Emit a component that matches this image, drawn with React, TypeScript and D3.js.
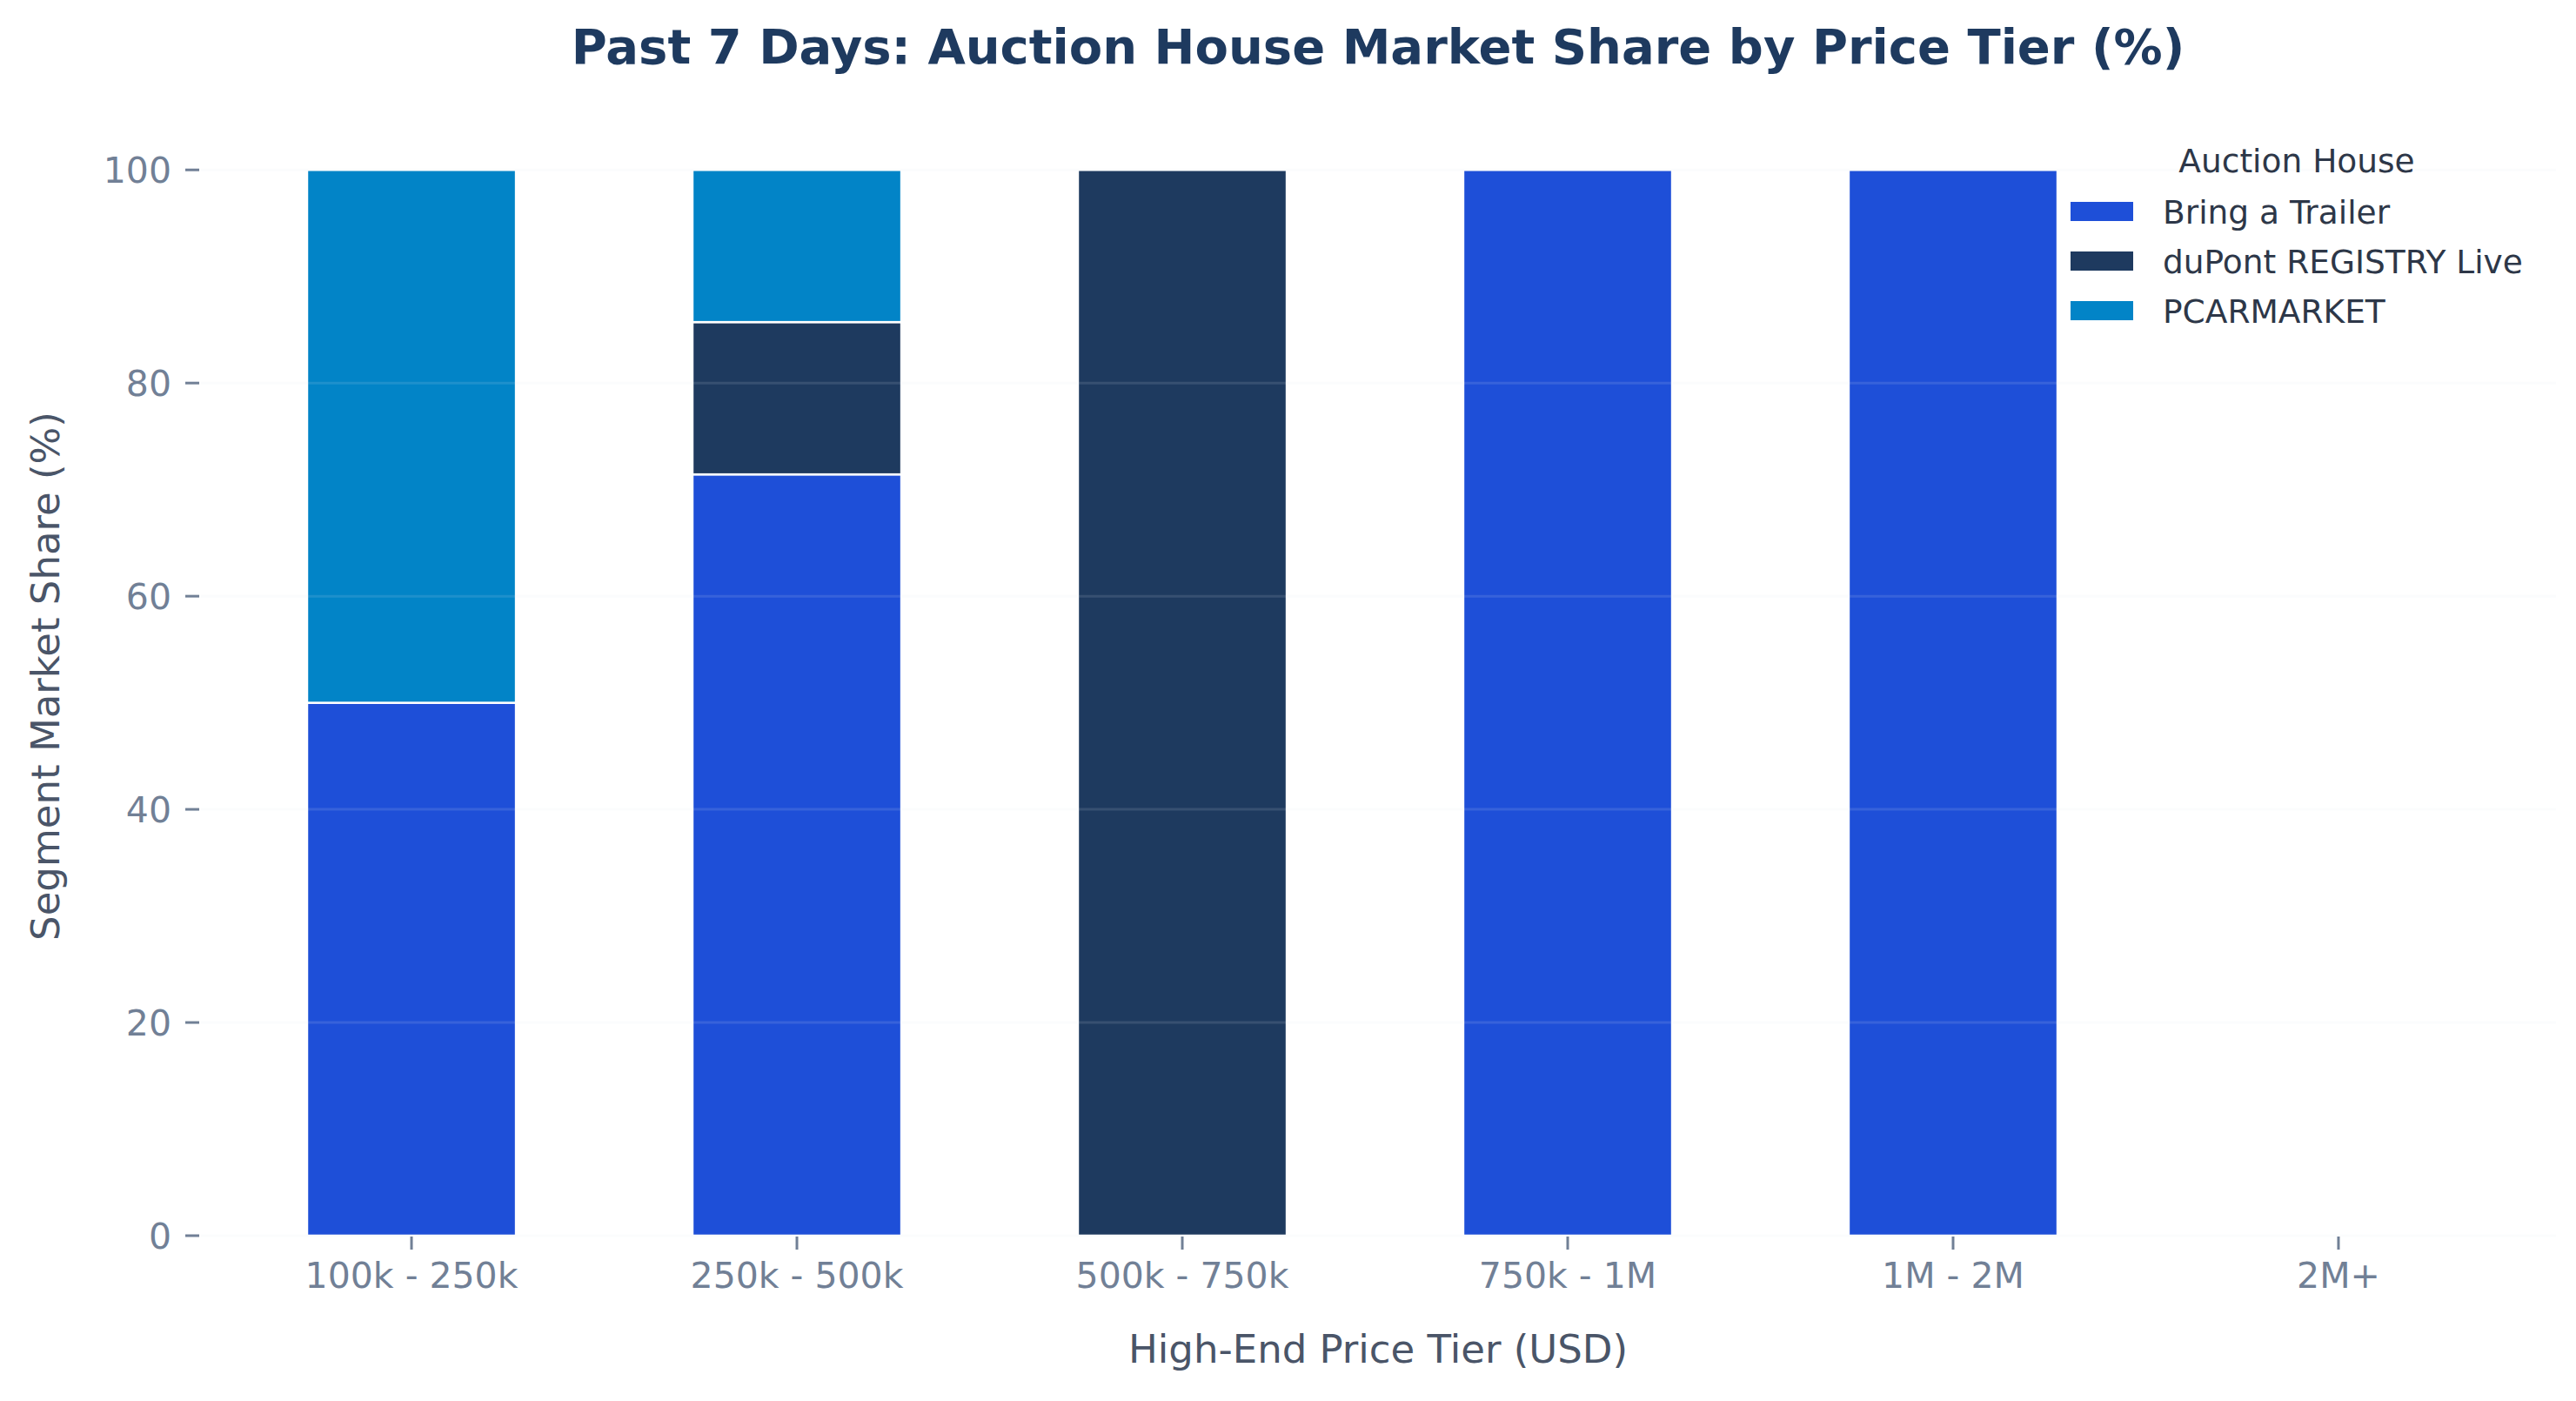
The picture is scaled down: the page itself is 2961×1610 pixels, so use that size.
import React, { useEffect } from "react";
import * as d3 from "d3";

const categories = ["100k - 250k", "250k - 500k", "500k - 750k", "750k - 1M", "1M - 2M", "2M+"];
const seriesNames = ["Bring a Trailer", "duPont REGISTRY Live", "PCARMARKET"];
const bringATrailer = [50, 71.43, 0, 100, 100, 0];
const duPontRegistry = [0, 14.29, 100, 0, 0, 0];
const pcarMarket = [50, 14.28, 0, 0, 0, 0];
const seriesColors = ["#1e4fd8", "#1e3a5f", "#0284c7"];
const yTicks = [0, 20, 40, 60, 80, 100];

const W = 2961;
const H = 1610;
const M = { left: 230, right: 2938, top: 134, bottom: 1420 };
const FONT = "'DejaVu Sans', sans-serif";

export default function App() {
  useEffect(() => {
    document.body.style.margin = "0";
  }, []);

  const x = d3
    .scaleBand<string>()
    .domain(categories)
    .range([M.left, 2931])
    .paddingInner(0.458)
    .paddingOuter(0.2776);
  const y = d3.scaleLinear().domain([0, 105]).range([M.bottom, M.top]);

  const rows = categories.map((c, i) => ({
    cat: c,
    [seriesNames[0]]: bringATrailer[i],
    [seriesNames[1]]: duPontRegistry[i],
    [seriesNames[2]]: pcarMarket[i],
  }));
  const stacked = d3.stack<any>().keys(seriesNames)(rows);

  const cx = (c: string) => (x(c) as number) + x.bandwidth() / 2;

  return (
    <svg width={W} height={H} style={{ display: "block", background: "#ffffff" }} fontFamily={FONT}>
      <text
        x={(M.left + M.right) / 2}
        y={73}
        textAnchor="middle"
        fontSize={56}
        fontWeight="bold"
        fill="#1e3a5f"
      >
        Past 7 Days: Auction House Market Share by Price Tier (%)
      </text>

      {stacked.map((layer, si) => (
        <g key={layer.key} fill={seriesColors[si]}>
          {layer.map((d, i) => {
            const h = y(d[0]) - y(d[1]);
            if (h <= 0) return null;
            return (
              <rect
                key={i}
                x={x(categories[i]) as number}
                y={y(d[1])}
                width={x.bandwidth()}
                height={h}
                stroke="#ffffff"
                strokeWidth={2.5}
              />
            );
          })}
        </g>
      ))}

      {yTicks.map((t) => (
        <line
          key={t}
          x1={M.left}
          x2={M.right}
          y1={y(t)}
          y2={y(t)}
          stroke="#e2e8f0"
          strokeOpacity={0.13}
          strokeWidth={3}
        />
      ))}

      {yTicks.map((t) => (
        <g key={"yt" + t}>
          <line x1={213} x2={229} y1={y(t)} y2={y(t)} stroke="#718096" strokeWidth={3} />
          <text x={197} y={y(t)} dy="0.36em" textAnchor="end" fontSize={41} fill="#718096">
            {t}
          </text>
        </g>
      ))}

      {categories.map((c) => (
        <g key={"xt" + c}>
          <line x1={cx(c)} x2={cx(c)} y1={1421} y2={1436} stroke="#718096" strokeWidth={3} />
          <text x={cx(c)} y={1480} textAnchor="middle" fontSize={41} fill="#718096">
            {c}
          </text>
        </g>
      ))}

      <text x={(M.left + M.right) / 2} y={1566} textAnchor="middle" fontSize={45} fill="#4a5568">
        High-End Price Tier (USD)
      </text>
      <text
        transform={`translate(${68},${(M.top + M.bottom) / 2}) rotate(-90)`}
        textAnchor="middle"
        fontSize={45}
        fill="#4a5568"
      >
        Segment Market Share (%)
      </text>

      <g>
        <text x={2640} y={198} textAnchor="middle" fontSize={37.5} fill="#2d3748">
          Auction House
        </text>
        {seriesNames.map((s, i) => (
          <g key={s} transform={`translate(2380, ${243 + i * 57})`}>
            <rect x={0} y={-11} width={72} height={22} fill={seriesColors[i]} />
            <text x={106} y={0} dy="0.36em" fontSize={37.5} fill="#2d3748">
              {s}
            </text>
          </g>
        ))}
      </g>
    </svg>
  );
}
